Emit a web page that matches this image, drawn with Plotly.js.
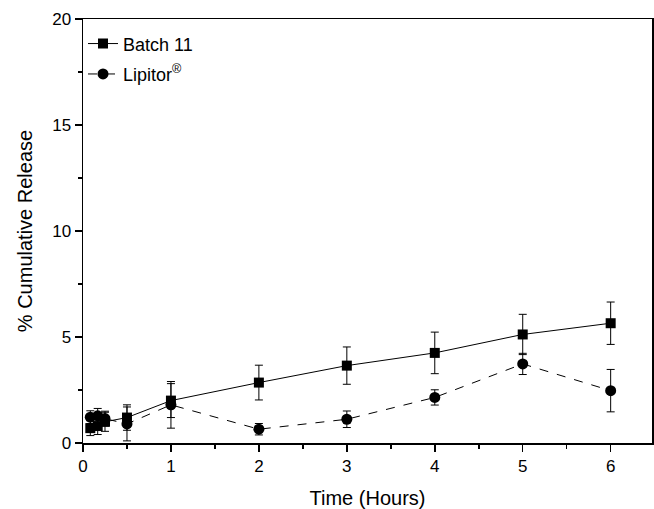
<!DOCTYPE html>
<html><head><meta charset="utf-8">
<script src="https://cdn.plot.ly/plotly-3.0.1.min.js"></script>
<style>html,body{margin:0;padding:0;background:#fff}</style>
</head><body><div id="chart" style="width:654px;height:509px"></div>
<script>
var time = [0.083, 0.167, 0.25, 0.5, 1, 2, 3, 4, 5, 6];
var batch11 = [0.7, 0.8, 1.0, 1.2, 2.0, 2.85, 3.65, 4.25, 5.12, 5.65];
var batch11Err = [0.35, 0.4, 0.45, 0.6, 0.8, 0.82, 0.88, 0.98, 0.95, 1.0];
var lipitor = [1.22, 1.28, 1.15, 0.9, 1.8, 0.65, 1.12, 2.15, 3.73, 2.47];
var lipitorErr = [0.3, 0.35, 0.35, 0.8, 1.1, 0.27, 0.39, 0.36, 0.5, 1.0];
var xTicks = [0, 1, 2, 3, 4, 5, 6];
var yTicks = [0, 5, 10, 15, 20];

var traces = [
  {x: time, y: batch11, name: 'Batch 11', type: 'scatter', mode: 'lines+markers', legendgroup: 'a',
   line: {color: '#000', width: 1, dash: 'solid'},
   marker: {symbol: 'square', size: 10, color: '#000'},
   error_y: {type: 'data', array: batch11Err, visible: true, color: '#000', thickness: 1, width: 4}},
  {x: time, y: lipitor, name: 'Lipitor<sup>®</sup>', type: 'scatter', mode: 'lines+markers', legendgroup: 'b',
   line: {color: '#000', width: 1, dash: 'dash'},
   marker: {symbol: 'circle', size: 11, color: '#000'},
   error_y: {type: 'data', array: lipitorErr, visible: true, color: '#000', thickness: 1, width: 4}}
];

var layout = {
  width: 654, height: 509,
  margin: {l: 83, r: 2, t: 19, b: 66},
  paper_bgcolor: '#fff', plot_bgcolor: '#fff',
  font: {family: 'Liberation Sans, Arial, sans-serif', color: '#000', size: 17},
  showlegend: true,
  legend: {x: 0.0, y: 0.985, xanchor: 'left', yanchor: 'top', bgcolor: 'rgba(0,0,0,0)',
           font: {size: 18}, tracegroupgap: 4},
  xaxis: {range: [0, 6.47], tickvals: xTicks, ticktext: xTicks.map(String),
          ticks: 'outside', ticklen: 7, tickwidth: 1.5, tickcolor: '#000',
          minor: {dtick: 0.5, ticks: 'outside', ticklen: 4, tickcolor: '#000'},
          showgrid: false, zeroline: false, showline: true, linecolor: '#000', linewidth: 1.5,
          mirror: true,
          title: {text: 'Time (Hours)', font: {size: 20}, standoff: 16}},
  yaxis: {range: [0, 20], tickvals: yTicks, ticktext: yTicks.map(String),
          ticks: 'outside', ticklen: 7, tickwidth: 1.5, tickcolor: '#000',
          minor: {dtick: 2.5, ticks: 'outside', ticklen: 4, tickcolor: '#000'},
          showgrid: false, zeroline: false, showline: true, linecolor: '#000', linewidth: 1.5,
          mirror: true,
          title: {text: '% Cumulative Release', font: {size: 20}, standoff: 14}}
};
Plotly.newPlot('chart', traces, layout, {staticPlot: true, displayModeBar: false});
</script></body></html>
